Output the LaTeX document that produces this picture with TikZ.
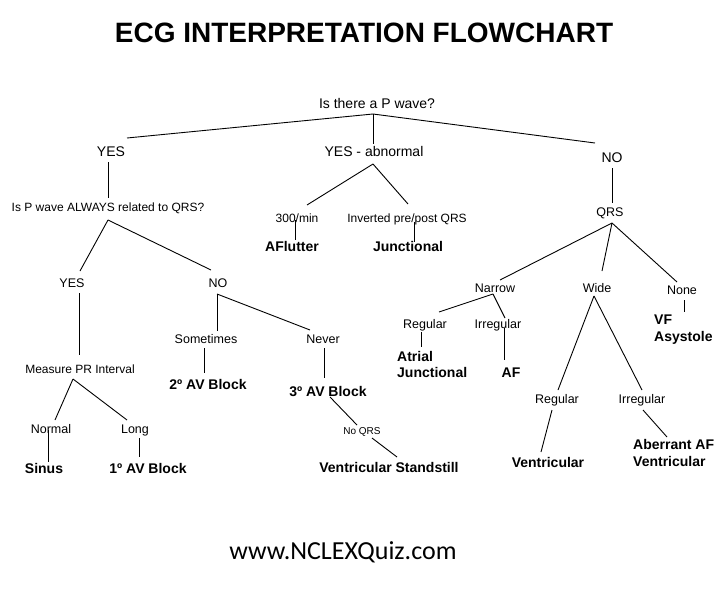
\documentclass[tikz,border=0pt]{standalone}
\usepackage{fontspec}
\setmainfont{Liberation Sans}
\newfontfamily\webfont{Carlito}
\begin{document}
\begin{tikzpicture}[x=1pt,y=-1pt,
  lbl/.style={inner sep=0pt,anchor=base,font=\fontsize{12.5}{15}\selectfont},
  big/.style={lbl,font=\fontsize{14}{17}\selectfont},
  sml/.style={lbl,font=\fontsize{12}{14}\selectfont},
  tiny/.style={lbl,font=\fontsize{10}{12}\selectfont},
  res/.style={lbl,font=\fontsize{14}{17}\selectfont\bfseries},
  link/.style={line width=0.9pt}]
\useasboundingbox[fill=white] (0,0) rectangle (720,611);

% title and footer
\node[lbl,font=\fontsize{28}{32}\selectfont\bfseries] (title) at (364,42) {ECG INTERPRETATION FLOWCHART};
\node[lbl,font=\webfont\fontsize{26}{30}\selectfont] (web) at (343,559) {www.NCLEXQuiz.com};

% level 0/1
\node[big] (top) at (377,108) {Is there a P wave?};
\node[big] (yes) at (111,156) {YES};
\node[big] (yesab) at (374,156) {YES - abnormal};
\node[big] (no) at (612,162) {NO};

% YES branch
\node[sml] (isp) at (108,211) {Is P wave ALWAYS related to QRS?};
\node[lbl] (yes2) at (72,287) {YES};
\node[lbl] (no2) at (218,287) {NO};
\node[sml] (measure) at (80,373) {Measure PR Interval};
\node[lbl] (normal) at (51,433) {Normal};
\node[lbl] (long) at (135,433) {Long};
\node[res] (sinus) at (44,473) {Sinus};
\node[res] (avb1) at (148,473) {1º AV Block};
\node[lbl] (sometimes) at (206,343) {Sometimes};
\node[lbl] (never) at (323,343) {Never};
\node[res] (avb2) at (208,389) {2º AV Block};
\node[res] (avb3) at (328,396) {3º AV Block};
\node[tiny] (noqrs) at (362,434) {No QRS};
\node[res] (vstand) at (389,472) {Ventricular Standstill};

% YES - abnormal branch
\node[sml] (r300) at (297,222) {300/min};
\node[sml] (inv) at (407,222) {Inverted pre/post QRS};
\node[res] (aflut) at (292,251) {AFlutter};
\node[res] (junc) at (408,251) {Junctional};

% NO branch
\node[lbl] (qrs) at (610,216) {QRS};
\node[lbl] (narrow) at (495,292) {Narrow};
\node[lbl] (wide) at (597,292) {Wide};
\node[lbl] (none) at (682,294) {None};
\node[lbl] (nreg) at (425,328) {Regular};
\node[lbl] (nirr) at (498,328) {Irregular};
\node[res,anchor=base west] (atr1) at (397,361) {Atrial};
\node[res,anchor=base west] (atr2) at (397,377) {Junctional};
\node[res] (af) at (511,377) {AF};
\node[res,anchor=base west] (vf1) at (654,324) {VF};
\node[res,anchor=base west] (vf2) at (654,341) {Asystole};
\node[lbl] (wreg) at (557,403) {Regular};
\node[lbl] (wirr) at (642,403) {Irregular};
\node[res] (vent) at (548,467) {Ventricular};
\node[res,anchor=base west] (ab1) at (633,449) {Aberrant AF};
\node[res,anchor=base west] (ab2) at (633,466) {Ventricular};

% connector end points
\coordinate (top-s) at (373,114);
\coordinate (yes-n) at (127,138);
\coordinate (yesab-n) at (373,144);
\coordinate (no-n) at (595,143);
\coordinate (yes-s) at (108,162);
\coordinate (isp-n) at (108,198);
\coordinate (isp-s) at (108,220);
\coordinate (yes2-n) at (80,271);
\coordinate (no2-n) at (211,270);
\coordinate (yes2-s) at (79,293);
\coordinate (measure-n) at (79,355);
\coordinate (measure-s) at (73,379);
\coordinate (normal-n) at (55,420);
\coordinate (long-n) at (127,420);
\coordinate (normal-s) at (48,430);
\coordinate (sinus-n) at (48,462);
\coordinate (long-s) at (139,438);
\coordinate (avb1-n) at (139,457);
\coordinate (no2-s) at (217,294);
\coordinate (sometimes-n) at (217,331);
\coordinate (never-n) at (310,330);
\coordinate (sometimes-s) at (204,348);
\coordinate (avb2-n) at (204,373);
\coordinate (never-s) at (324,348);
\coordinate (avb3-n) at (324,378);
\coordinate (avb3-s) at (330,397);
\coordinate (noqrs-n) at (357,425);
\coordinate (noqrs-s) at (372,438);
\coordinate (vstand-n) at (397,457);
\coordinate (yesab-s) at (373,164);
\coordinate (r300-n) at (307,205);
\coordinate (inv-n) at (408,204);
\coordinate (r300-s) at (295,220);
\coordinate (aflut-n) at (295,240);
\coordinate (inv-s) at (414,222);
\coordinate (junc-n) at (414,242);
\coordinate (no-s) at (612,168);
\coordinate (qrs-n) at (612,203);
\coordinate (qrs-s) at (612,223);
\coordinate (narrow-n) at (500,280);
\coordinate (wide-n) at (602,271);
\coordinate (none-n) at (677,282);
\coordinate (narrow-s) at (493,294);
\coordinate (nreg-n) at (439,312);
\coordinate (nirr-n) at (505,318);
\coordinate (nreg-s) at (421,332);
\coordinate (atr-n) at (421,347);
\coordinate (nirr-s) at (504,328);
\coordinate (af-n) at (504,360);
\coordinate (none-s) at (684,300);
\coordinate (vf-n) at (684,312);
\coordinate (wide-s) at (594,296);
\coordinate (wreg-n) at (558,390);
\coordinate (wirr-n) at (642,390);
\coordinate (wreg-s) at (552,410);
\coordinate (vent-n) at (541,452);
\coordinate (wirr-s) at (643,410);
\coordinate (ab-n) at (667,437);

% connectors
\draw[link] (top-s) -- (yes-n);
\draw[link] (top-s) -- (yesab-n);
\draw[link] (top-s) -- (no-n);
\draw[link] (yes-s) -- (isp-n);
\draw[link] (isp-s) -- (yes2-n);
\draw[link] (isp-s) -- (no2-n);
\draw[link] (yes2-s) -- (measure-n);
\draw[link] (measure-s) -- (normal-n);
\draw[link] (measure-s) -- (long-n);
\draw[link] (normal-s) -- (sinus-n);
\draw[link] (long-s) -- (avb1-n);
\draw[link] (no2-s) -- (sometimes-n);
\draw[link] (no2-s) -- (never-n);
\draw[link] (sometimes-s) -- (avb2-n);
\draw[link] (never-s) -- (avb3-n);
\draw[link] (avb3-s) -- (noqrs-n);
\draw[link] (noqrs-s) -- (vstand-n);
\draw[link] (yesab-s) -- (r300-n);
\draw[link] (yesab-s) -- (inv-n);
\draw[link] (r300-s) -- (aflut-n);
\draw[link] (inv-s) -- (junc-n);
\draw[link] (no-s) -- (qrs-n);
\draw[link] (qrs-s) -- (narrow-n);
\draw[link] (qrs-s) -- (wide-n);
\draw[link] (qrs-s) -- (none-n);
\draw[link] (narrow-s) -- (nreg-n);
\draw[link] (narrow-s) -- (nirr-n);
\draw[link] (nreg-s) -- (atr-n);
\draw[link] (nirr-s) -- (af-n);
\draw[link] (none-s) -- (vf-n);
\draw[link] (wide-s) -- (wreg-n);
\draw[link] (wide-s) -- (wirr-n);
\draw[link] (wreg-s) -- (vent-n);
\draw[link] (wirr-s) -- (ab-n);
\end{tikzpicture}
\end{document}
